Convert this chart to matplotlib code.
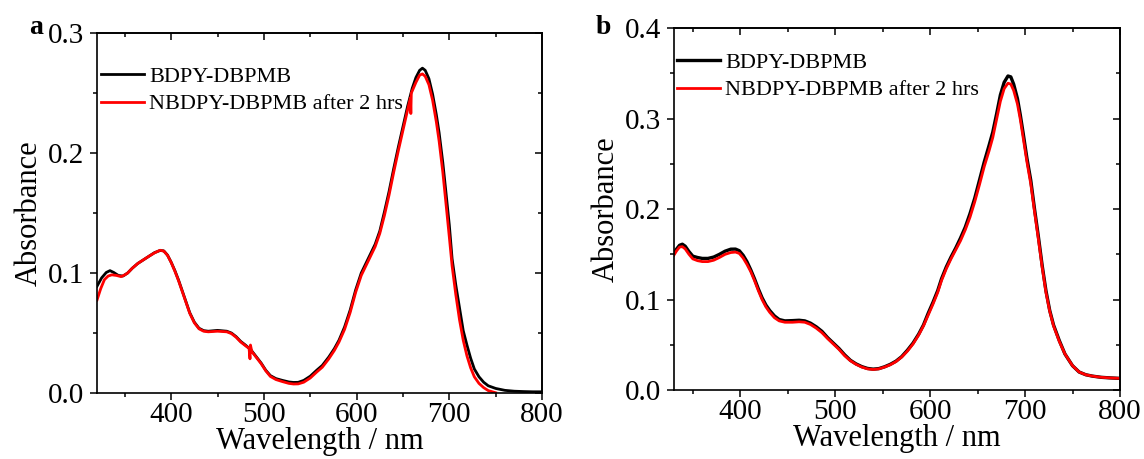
import matplotlib
matplotlib.use('Agg')
import matplotlib.pyplot as plt
import matplotlib.ticker as mticker

plt.rcParams['font.family'] = ['Liberation Serif', 'DejaVu Serif']

#panel a data
wl_a_black = [320, 325, 330, 334, 338, 343, 348, 353, 358, 364, 370, 376, 382, 388, 392, 396,
              400, 404, 408, 412, 416, 420, 425, 430, 435, 440, 450, 460, 465, 470, 475, 480,
              486, 492, 497, 502, 507, 513, 520, 527, 532, 537, 543, 550, 557, 563, 570, 576,
              581, 587, 593, 599, 605, 610, 615, 620, 625, 630, 635, 640, 645, 650, 655, 660,
              664, 668, 671, 674, 678, 682, 686, 689, 693, 696, 700, 703, 707, 711, 715, 719,
              723, 727, 732, 737, 742, 750, 760, 770, 780, 790, 800]
abs_a_black = [0.089, 0.096, 0.1005, 0.102, 0.1005, 0.098, 0.0975, 0.100, 0.104, 0.108, 0.111,
               0.114, 0.117, 0.1188, 0.1185, 0.115, 0.109, 0.102, 0.094, 0.085, 0.076, 0.067,
               0.059, 0.054, 0.052, 0.0515, 0.0522, 0.0515, 0.050, 0.047, 0.043, 0.040, 0.036,
               0.030, 0.025, 0.019, 0.0145, 0.012, 0.0105, 0.0092, 0.0088, 0.0089, 0.0105,
               0.014, 0.019, 0.023, 0.030, 0.037, 0.044, 0.055, 0.069, 0.086, 0.100, 0.108,
               0.116, 0.124, 0.135, 0.151, 0.168, 0.187, 0.205, 0.222, 0.239, 0.254, 0.263,
               0.269, 0.2708, 0.269, 0.262, 0.249, 0.232, 0.217, 0.192, 0.170, 0.140, 0.112,
               0.090, 0.071, 0.052, 0.040, 0.029, 0.020, 0.0135, 0.009, 0.006, 0.0038, 0.0022,
               0.0015, 0.0012, 0.001, 0.001]

wl_a_red = [320, 324, 328, 332, 336, 341, 346, 350, 353, 358, 364, 370, 376, 382, 388, 392,
            396, 400, 404, 408, 412, 416, 420, 425, 430, 435, 440, 450, 460, 465, 470, 475,
            480, 484, 485, 485.5, 487, 492, 497, 502, 507, 513, 520, 527, 532, 537, 543, 550,
            557, 563, 570, 576, 581, 587, 593, 599, 605, 610, 615, 620, 625, 630, 635, 640,
            645, 650, 655, 658, 658.5, 659, 664, 668, 671, 674, 678, 682, 686, 689, 693, 696,
            700, 703, 707, 711, 715, 719, 723, 727, 732, 737, 742, 750]
abs_a_red = [0.0775, 0.087, 0.0945, 0.0975, 0.0985, 0.098, 0.097, 0.0985, 0.100, 0.104, 0.108,
             0.111, 0.114, 0.1168, 0.119, 0.1183, 0.1148, 0.1088, 0.1015, 0.0935, 0.0845,
             0.0755, 0.0665, 0.0585, 0.0535, 0.0515, 0.051, 0.0515, 0.051, 0.0495, 0.0465,
             0.0425, 0.0395, 0.0372, 0.0285, 0.040, 0.0345, 0.0295, 0.0245, 0.0185, 0.0138,
             0.0112, 0.0095, 0.008, 0.0075, 0.0076, 0.009, 0.0125, 0.0175, 0.0215, 0.0285,
             0.0355, 0.0425, 0.053, 0.067, 0.084, 0.098, 0.106, 0.114, 0.122, 0.133, 0.148,
             0.165, 0.184, 0.202, 0.219, 0.236, 0.246, 0.233, 0.250, 0.259, 0.265, 0.266,
             0.264, 0.257, 0.244, 0.226, 0.210, 0.184, 0.161, 0.130, 0.106, 0.082, 0.061,
             0.044, 0.031, 0.021, 0.0135, 0.008, 0.0045, 0.002, 0.0002]

#panel b data
wl_b = [330, 333, 336, 339, 342, 346, 350, 355, 360, 366, 372, 378, 384, 390, 395, 399, 403,
        407, 411, 415, 419, 423, 427, 431, 436, 441, 447, 455, 462, 468, 474, 480, 486, 492,
        498, 504, 510, 516, 522, 528, 534, 540, 546, 552, 558, 564, 570, 576, 582, 588, 593,
        598, 603, 608, 612, 617, 622, 627, 632, 637, 642, 647, 652, 657, 662, 666, 670, 674,
        678, 682, 685, 688, 692, 695, 698, 702, 706, 710, 714, 718, 722, 726, 730, 736, 742,
        750, 757, 764, 771, 780, 790, 800]
abs_b_black = [0.151, 0.156, 0.160, 0.1612, 0.159, 0.153, 0.148, 0.1465, 0.1455, 0.1455,
               0.147, 0.150, 0.1535, 0.1557, 0.1558, 0.154, 0.149, 0.142, 0.133, 0.123, 0.112,
               0.102, 0.094, 0.088, 0.082, 0.078, 0.0765, 0.0768, 0.0772, 0.0765, 0.074, 0.070,
               0.065, 0.058, 0.052, 0.046, 0.039, 0.033, 0.029, 0.026, 0.024, 0.0232, 0.0238,
               0.0258, 0.0285, 0.032, 0.037, 0.044, 0.052, 0.062, 0.072, 0.085, 0.097, 0.110,
               0.123, 0.136, 0.147, 0.157, 0.168, 0.180, 0.195, 0.212, 0.232, 0.252, 0.270,
               0.285, 0.305, 0.326, 0.340, 0.347, 0.346, 0.338, 0.322, 0.304, 0.284, 0.256,
               0.232, 0.200, 0.170, 0.138, 0.110, 0.088, 0.072, 0.055, 0.040, 0.027, 0.020,
               0.017, 0.0155, 0.0142, 0.0135, 0.013]
abs_b_red = [0.149, 0.154, 0.158, 0.1585, 0.156, 0.150, 0.145, 0.143, 0.142, 0.142, 0.1435,
             0.1465, 0.150, 0.152, 0.1525, 0.151, 0.146, 0.139, 0.131, 0.121, 0.110, 0.100,
             0.092, 0.086, 0.080, 0.0765, 0.075, 0.075, 0.0755, 0.075, 0.0725, 0.0685, 0.0635,
             0.057, 0.051, 0.045, 0.038, 0.0325, 0.0285, 0.0255, 0.0235, 0.0228, 0.0235,
             0.0255, 0.028, 0.0315, 0.0365, 0.043, 0.051, 0.061, 0.071, 0.083, 0.095, 0.108,
             0.121, 0.134, 0.145, 0.155, 0.165, 0.177, 0.191, 0.208, 0.227, 0.247, 0.264,
             0.279, 0.299, 0.319, 0.333, 0.339, 0.338, 0.331, 0.316, 0.299, 0.279, 0.252,
             0.228, 0.197, 0.167, 0.136, 0.108, 0.087, 0.071, 0.054, 0.040, 0.027, 0.020,
             0.017, 0.0155, 0.0142, 0.0135, 0.013]

labels = ['BDPY-DBPMB', 'NBDPY-DBPMB after 2 hrs']

fig = plt.figure(figsize=(11.44, 4.59), dpi=100)
ax1 = fig.add_axes([0.0848, 0.1438, 0.389, 0.784])
ax2 = fig.add_axes([0.589, 0.150, 0.390, 0.789])


def style(ax, xlim, ylim):
    ax.set_xlim(*xlim)
    ax.set_ylim(*ylim)
    ax.xaxis.set_major_locator(mticker.MultipleLocator(100))
    ax.xaxis.set_minor_locator(mticker.MultipleLocator(50))
    ax.yaxis.set_major_locator(mticker.MultipleLocator(0.1))
    ax.yaxis.set_minor_locator(mticker.MultipleLocator(0.05))
    ax.yaxis.set_major_formatter(mticker.FormatStrFormatter('%.1f'))
    for s in ax.spines.values():
        s.set_linewidth(1.2)
    #outer ticks left/bottom, inner ticks top/right (origin style)
    ax.tick_params(which='both', direction='out', top=False, right=False, labelsize=21, width=1.1)
    ax.tick_params(which='major', length=5, pad=4)
    ax.tick_params(axis='x', which='major', pad=1.5)
    ax.tick_params(which='minor', length=3)
    sec_x = ax.secondary_xaxis('top')
    sec_x.xaxis.set_major_locator(mticker.MultipleLocator(100))
    sec_x.xaxis.set_minor_locator(mticker.MultipleLocator(50))
    sec_x.tick_params(which='both', direction='in', labeltop=False, width=1.1)
    sec_x.tick_params(which='major', length=5)
    sec_x.tick_params(which='minor', length=3)
    sec_x.spines['top'].set_linewidth(1.2)
    sec_y = ax.secondary_yaxis('right')
    sec_y.yaxis.set_major_locator(mticker.MultipleLocator(0.1))
    sec_y.yaxis.set_minor_locator(mticker.MultipleLocator(0.05))
    sec_y.tick_params(which='both', direction='in', labelright=False, width=1.1)
    sec_y.tick_params(which='major', length=5)
    sec_y.tick_params(which='minor', length=3)
    sec_y.spines['right'].set_linewidth(1.2)
    ax.set_xlabel('Wavelength / nm', fontsize=22, labelpad=-1)
    ax.set_ylabel('Absorbance', fontsize=22, labelpad=3)


ax1.plot(wl_a_black, abs_a_black, color='black', lw=2.0, label=labels[0])
ax1.plot(wl_a_red, abs_a_red, color='red', lw=2.0, label=labels[1])
style(ax1, (320, 800), (0, 0.3))
ax1.legend(loc='upper left', bbox_to_anchor=(-0.02, 0.944), frameon=False, fontsize=16,
           handlelength=1.9, handletextpad=0.25, labelspacing=0.3, borderaxespad=0.2)

ax2.plot(wl_b, abs_b_black, color='black', lw=2.4, label=labels[0])
ax2.plot(wl_b, abs_b_red, color='red', lw=2.0, label=labels[1])
style(ax2, (330, 800), (0, 0.4))
ax2.legend(loc='upper left', bbox_to_anchor=(-0.022, 0.969), frameon=False, fontsize=16,
           handlelength=1.9, handletextpad=0.25, labelspacing=0.3, borderaxespad=0.2)

fig.text(29 / 1144, 1 - 28 / 459, 'a', fontsize=20, fontweight='bold', va='center')
fig.text(596 / 1144, 1 - 28 / 459, 'b', fontsize=20, fontweight='bold', va='center')

plt.savefig('out.png', dpi=100)
